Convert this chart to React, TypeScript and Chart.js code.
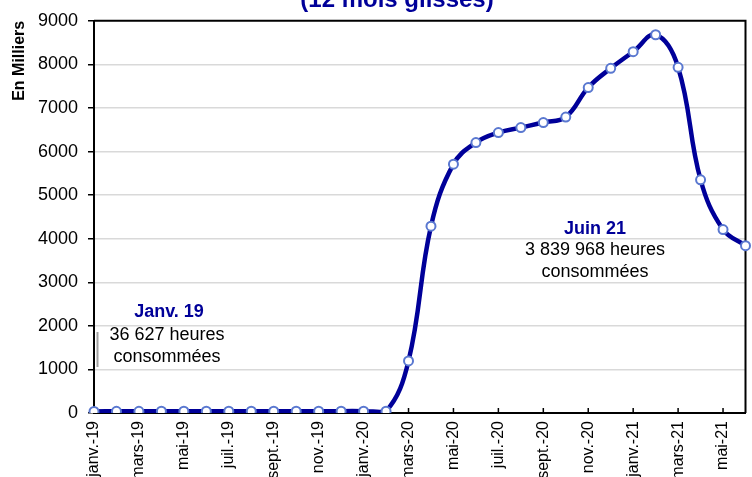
import React, { useEffect, useRef } from "react";
import { Chart, registerables } from "chart.js";

Chart.register(...registerables);

const FONT = '"Liberation Sans", Arial, sans-serif';

const months: string[] = [
  "janv.-19", "févr.-19", "mars-19", "avr.-19", "mai-19", "juin-19",
  "juil.-19", "août-19", "sept.-19", "oct.-19", "nov.-19", "déc.-19",
  "janv.-20", "févr.-20", "mars-20", "avr.-20", "mai-20", "juin-20",
  "juil.-20", "août-20", "sept.-20", "oct.-20", "nov.-20", "déc.-20",
  "janv.-21", "févr.-21", "mars-21", "avr.-21", "mai-21", "juin-21",
];

// heures consommées, en milliers (12 mois glissés)
const hours: number[] = [
  36.6, 38, 39, 40, 40, 41, 41, 42, 42, 42, 42, 43,
  43, 40, 1195, 4287, 5710, 6206, 6434, 6549, 6665, 6791,
  7469, 7910, 8291, 8680, 7933, 5352, 4210, 3840,
];

const yTicksMax = 9000;
const yStep = 1000;

const titleLine = "(12 mois glissés)";
const axisTitle = "En Milliers";
const noteStart = ["Janv. 19", "36 627 heures", "consommées"];
const noteEnd = ["Juin 21", "3 839 968 heures", "consommées"];

const NAVY = "#000099";

const decorPlugin = {
  id: "decor",
  beforeDatasetsDraw(chart: any) {
    const { ctx, chartArea, scales } = chart;
    ctx.save();
    ctx.strokeStyle = "#000";
    ctx.lineWidth = 2;
    ctx.beginPath();
    ctx.moveTo(chartArea.left, chartArea.top);
    ctx.lineTo(chartArea.right, chartArea.top);
    ctx.lineTo(chartArea.right, chartArea.bottom);
    ctx.stroke();
    // inward tick marks on x axis
    ctx.lineWidth = 1.5;
    months.forEach((_, i) => {
      if (i % 2 !== 0) return;
      const x = scales.x.getPixelForValue(i);
      ctx.beginPath();
      ctx.moveTo(x, chartArea.bottom);
      ctx.lineTo(x, chartArea.bottom - 5);
      ctx.stroke();
    });
    ctx.restore();
  },
  afterDraw(chart: any) {
    const { ctx } = chart;
    ctx.save();
    ctx.textAlign = "center";
    ctx.textBaseline = "alphabetic";
    // title (partly outside the canvas)
    ctx.fillStyle = NAVY;
    ctx.font = `bold 24px ${FONT}`;
    ctx.fillText(titleLine, 397, 7);

    // start annotation
    ctx.font = `bold 18px ${FONT}`;
    ctx.fillStyle = NAVY;
    ctx.fillText(noteStart[0], 169, 317);
    ctx.font = `18px ${FONT}`;
    ctx.fillStyle = "#000";
    ctx.fillText(noteStart[1], 167, 340);
    ctx.fillText(noteStart[2], 167, 362);
    ctx.strokeStyle = "#a0a0a0";
    ctx.lineWidth = 2;
    ctx.beginPath();
    ctx.moveTo(97.5, 332);
    ctx.lineTo(97.5, 367);
    ctx.stroke();

    // end annotation
    ctx.font = `bold 18px ${FONT}`;
    ctx.fillStyle = NAVY;
    ctx.fillText(noteEnd[0], 595, 234);
    ctx.font = `18px ${FONT}`;
    ctx.fillStyle = "#000";
    ctx.fillText(noteEnd[1], 595, 255);
    ctx.fillText(noteEnd[2], 595, 277);
    ctx.restore();
  },
};

export default function App() {
  const ref = useRef<HTMLCanvasElement>(null);

  useEffect(() => {
    document.body.style.margin = "0";
    const canvas = ref.current!;
    const chart = new Chart(canvas, {
      type: "line",
      data: {
        labels: months,
        datasets: [
          {
            data: hours,
            borderColor: NAVY,
            borderWidth: 4.5,
            tension: 0.4,
            pointRadius: 4.5,
            pointBorderWidth: 2,
            pointBackgroundColor: "#fff",
            pointBorderColor: "#5a78d0",
            fill: false,
          },
        ],
      },
      options: {
        responsive: false,
        animation: false,
        devicePixelRatio: 1,
        layout: { padding: { top: 19, right: 6, left: 0, bottom: 0 } },
        plugins: {
          legend: { display: false },
          title: { display: false },
          tooltip: { enabled: false },
        },
        scales: {
          x: {
            type: "category",
            offset: false,
            grid: { display: false, drawTicks: false },
            border: { display: true, color: "#000", width: 2 },
            ticks: {
              autoSkip: false,
              maxRotation: 90,
              minRotation: 90,
              padding: 8,
              color: "#000",
              font: { size: 16, family: FONT },
              callback: (_v: any, i: number) => (i % 2 === 0 ? months[i] : ""),
            },
            afterFit: (s: any) => {
              s.height = 64;
              s.paddingRight = 0;
              s.paddingLeft = 0;
            },
          },
          y: {
            min: 0,
            max: yTicksMax,
            ticks: {
              stepSize: yStep,
              padding: 10,
              color: "#000",
              font: { size: 18, family: FONT },
              callback: (v: any) => String(v),
            },
            grid: {
              color: (c: any) =>
                c.tick && (c.tick.value === 0 || c.tick.value === yTicksMax)
                  ? "rgba(0,0,0,0)"
                  : "#d9d9d9",
              lineWidth: 1.5,
              tickColor: "#000",
              tickLength: 6,
            },
            border: { color: "#000", width: 2 },
            title: {
              display: true,
              text: axisTitle,
              align: "end",
              color: "#000",
              font: { size: 16, weight: "bold", family: FONT },
              padding: { top: 10, bottom: 0 },
            },
            afterFit: (s: any) => {
              s.width = 94;
            },
          },
        },
      },
      plugins: [decorPlugin],
    });
    return () => chart.destroy();
  }, []);

  return (
    <div style={{ position: "fixed", left: 0, top: 0, width: 752, height: 477, overflow: "hidden", background: "#fff" }}>
      <canvas ref={ref} width={752} height={477} style={{ display: "block" }} />
    </div>
  );
}
